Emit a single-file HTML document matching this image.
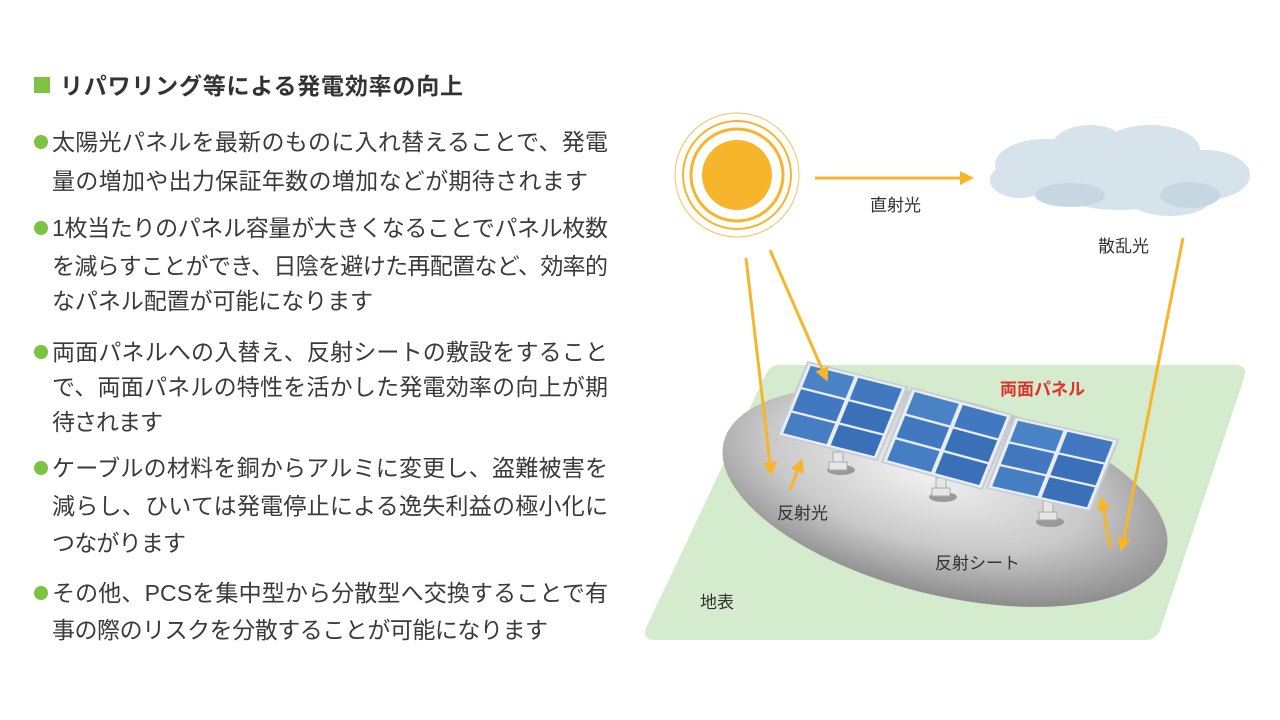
<!DOCTYPE html>
<html><head><meta charset="utf-8"><style>
body{margin:0;width:1280px;height:720px;background:#fff;position:relative;overflow:hidden;font-family:"Liberation Sans","Noto Sans CJK JP",sans-serif;color:#333}
.sq{position:absolute;left:34px;top:77px;width:16px;height:16px;background:#7dc242}
.b{position:absolute;left:34px;width:14px;height:14px;border-radius:50%;background:#7dc242}
svg{position:absolute;left:0;top:0}
</style></head><body>
<div class="sq"></div>
<div class="b" style="top:135px"></div>
<div class="b" style="top:221px"></div>
<div class="b" style="top:345px"></div>
<div class="b" style="top:461px"></div>
<div class="b" style="top:586px"></div>

<svg width="1280" height="720" viewBox="0 0 1280 720">
<defs>
<radialGradient id="gr" cx="0.45" cy="0.4" r="0.6">
<stop offset="0" stop-color="#f2f2f2"/><stop offset="0.6" stop-color="#c9c9c9"/><stop offset="1" stop-color="#8f8f8f"/></radialGradient>
<marker id="ah2" markerWidth="14" markerHeight="14" refX="10" refY="7" orient="auto" markerUnits="userSpaceOnUse"><path d="M0,0 L14,7 L0,14 z" fill="#f7b52c"/></marker>
<g id="panel">
<rect x="0" y="0" width="1" height="1" fill="#e8edf2" stroke="#c5ccd4" stroke-width="0.02"/>
<rect x="0.04" y="0.04" width="0.44" height="0.29" fill="#4a82c6"/>
<rect x="0.52" y="0.04" width="0.44" height="0.29" fill="#4178c0"/>
<rect x="0.04" y="0.36" width="0.44" height="0.29" fill="#4178c0"/>
<rect x="0.52" y="0.36" width="0.44" height="0.29" fill="#3a70b8"/>
<rect x="0.04" y="0.68" width="0.44" height="0.28" fill="#467ec4"/>
<rect x="0.52" y="0.68" width="0.44" height="0.28" fill="#3a70b8"/>
</g>
</defs>
<g font-family="Liberation Sans, Noto Sans CJK JP, sans-serif" fill="#3a3a3a" font-size="23">
<text x="60" y="94" font-size="23" font-weight="bold" fill="#333" textLength="403" lengthAdjust="spacing">リパワリング等による発電効率の向上</text>
<text x="52" y="150" textLength="556" lengthAdjust="spacing">太陽光パネルを最新のものに入れ替えることで、発電</text>
<text x="52" y="189" textLength="536" lengthAdjust="spacing">量の増加や出力保証年数の増加などが期待されます</text>
<text x="52" y="236" textLength="556" lengthAdjust="spacing">1枚当たりのパネル容量が大きくなることでパネル枚数</text>
<text x="52" y="274" textLength="556" lengthAdjust="spacing">を減らすことができ、日陰を避けた再配置など、効率的</text>
<text x="52" y="309" textLength="321" lengthAdjust="spacing">なパネル配置が可能になります</text>
<text x="52" y="360" textLength="556" lengthAdjust="spacing">両面パネルへの入替え、反射シートの敷設をすること</text>
<text x="52" y="395" textLength="556" lengthAdjust="spacing">で、両面パネルの特性を活かした発電効率の向上が期</text>
<text x="52" y="430" textLength="111" lengthAdjust="spacing">待されます</text>
<text x="52" y="476" textLength="556" lengthAdjust="spacing">ケーブルの材料を銅からアルミに変更し、盗難被害を</text>
<text x="52" y="514" textLength="556" lengthAdjust="spacing">減らし、ひいては発電停止による逸失利益の極小化に</text>
<text x="52" y="551" textLength="134" lengthAdjust="spacing">つながります</text>
<text x="52" y="601" textLength="556" lengthAdjust="spacing">その他、PCSを集中型から分散型へ交換することで有</text>
<text x="52" y="638" textLength="496" lengthAdjust="spacing">事の際のリスクを分散することが可能になります</text>
</g>
<path d="M778,365 L1235,365 Q1248,365 1244,378 L1160,630 Q1156,640 1145,640 L655,640 Q642,640 646,628 L765,376 Q770,365 778,365 Z" fill="#d4ebcd"/>
<ellipse cx="945" cy="497" rx="228" ry="98" transform="rotate(14 945 497)" fill="url(#gr)"/>
<g fill="#e6e6e6" stroke="#aaa" stroke-width="1">
<ellipse cx="841" cy="470" rx="14" ry="5" fill="#999" stroke="none"/>
<rect x="833" y="452" width="10" height="14"/><rect x="829" y="462" width="18" height="8"/>
<ellipse cx="943" cy="497" rx="14" ry="5" fill="#999" stroke="none"/>
<rect x="936" y="478" width="10" height="15"/><rect x="932" y="488" width="18" height="8"/>
<ellipse cx="1050" cy="522" rx="14" ry="5" fill="#999" stroke="none"/>
<rect x="1043" y="500" width="10" height="16"/><rect x="1039" y="512" width="18" height="8"/>
</g>
<use href="#panel" transform="matrix(99 25 -30 73 808 362)"/>
<use href="#panel" transform="matrix(100 27 -30 74 912 388)"/>
<use href="#panel" transform="matrix(103 23 -28 71 1015 417)"/>
<circle cx="737" cy="175" r="62" fill="none" stroke="#f7c25a" stroke-width="1"/>
<circle cx="737" cy="175" r="54" fill="none" stroke="#f7b52c" stroke-width="2"/>
<circle cx="737" cy="175" r="46" fill="none" stroke="#f7b52c" stroke-width="3"/>
<circle cx="737" cy="175" r="35" fill="#f7b52c"/>
<g fill="#d7e3ea">
<ellipse cx="1045" cy="165" rx="50" ry="26"/><ellipse cx="1090" cy="150" rx="40" ry="25"/>
<ellipse cx="1150" cy="150" rx="50" ry="25"/><ellipse cx="1205" cy="175" rx="45" ry="25"/>
<ellipse cx="1120" cy="185" rx="70" ry="25"/><ellipse cx="1170" cy="200" rx="40" ry="16"/>
<ellipse cx="1020" cy="180" rx="30" ry="18"/>
</g>
<g fill="#c6d7e2"><ellipse cx="1190" cy="195" rx="30" ry="13"/><ellipse cx="1070" cy="195" rx="35" ry="12"/></g>
<g stroke="#f7b52c" stroke-width="3" fill="none">
<line x1="815" y1="178" x2="970" y2="178" marker-end="url(#ah2)"/>
<line x1="746" y1="258" x2="771" y2="472" marker-end="url(#ah2)"/>
<line x1="770" y1="250" x2="826" y2="378" marker-end="url(#ah2)"/>
<line x1="790" y1="490" x2="801" y2="462" marker-end="url(#ah2)"/>
<line x1="1183" y1="238" x2="1122" y2="548" marker-end="url(#ah2)"/>
<line x1="1110" y1="548" x2="1102" y2="500" marker-end="url(#ah2)"/>
</g>
<g font-family="Liberation Sans, Noto Sans CJK JP, sans-serif" font-size="17" fill="#333">
<text x="870" y="211">直射光</text>
<text x="1098" y="252">散乱光</text>
<text x="1000" y="395" fill="#e0312b" font-weight="bold">両面パネル</text>
<text x="777" y="519">反射光</text>
<text x="935" y="569">反射シート</text>
<text x="700" y="608">地表</text>
</g>
</svg>
</body></html>
